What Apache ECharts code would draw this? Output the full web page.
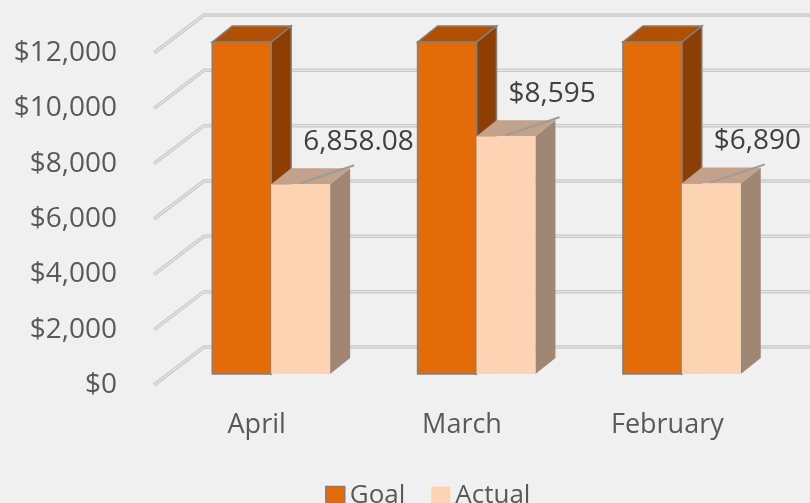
<!DOCTYPE html>
<html>
<head>
<meta charset="utf-8">
<style>
html,body{margin:0;padding:0;background:#f0f0f0}
#main{width:810px;height:503px}
</style>
<script src="https://cdn.jsdelivr.net/npm/echarts@6/dist/echarts.min.js"></script>
</head>
<body>
<div id="main"></div>
<script>
var months = ['April', 'March', 'February'];
var goal = [12000, 12000, 12000];
var actual = [6858.08, 8595, 6890];
var actualLabels = ['6,858.08', '$8,595', '$6,890'];
var yTicks = [0, 2000, 4000, 6000, 8000, 10000, 12000];

var chart = echarts.init(document.getElementById('main'));
var FONT = 'Open Sans';
// fake 3d: floor front -> bar front plane -> bar back -> back wall
var BAR_OFF = [14.5, -11];
var DEPTH = [20, -16];
var WALL = [50, -38];
var BAR_RATIO = 0.287;

var colors = {
  goal: {front: '#e36c09', top: '#b05004', side: '#8d3f03', stroke: '#808080'},
  actual: {front: '#fdd4b3', top: '#c2a28a', side: '#a08773', stroke: null}
};

function box(params, api, side, c, extra) {
  var idx = api.value(0), val = api.value(1);
  var b = api.coord([idx, 0]);
  var t = api.coord([idx, val]);
  var w = api.size([1, 0])[0] * BAR_RATIO;
  var x0 = b[0] + BAR_OFF[0] + (side === 0 ? -w : 0);
  var x1 = x0 + w;
  var yb = b[1] + BAR_OFF[1];
  var yt = t[1] + BAR_OFF[1];
  var st = c.stroke ? {stroke: c.stroke, lineWidth: 1.5} : {};
  var kids = [
    {type: 'polygon', shape: {points: [[x1, yt], [x1 + DEPTH[0], yt + DEPTH[1]], [x1 + DEPTH[0], yb + DEPTH[1]], [x1, yb]]},
      style: Object.assign({fill: c.side}, st)},
    {type: 'polygon', shape: {points: [[x0, yt], [x0 + DEPTH[0], yt + DEPTH[1]], [x1 + DEPTH[0], yt + DEPTH[1]], [x1, yt]]},
      style: Object.assign({fill: c.top}, st)},
    {type: 'rect', shape: {x: x0, y: yt, width: w, height: yb - yt},
      style: Object.assign({fill: c.front}, st)}
  ];
  if (extra) kids = kids.concat(extra(x0, yt, params.dataIndex));
  return {type: 'group', children: kids};
}

var option = {
  backgroundColor: '#f0f0f0',
  animation: false,
  grid: {left: 154, right: 40, top: 53, bottom: 118},
  legend: {
    left: 320, top: 477,
    itemWidth: 19, itemHeight: 19, itemGap: 26,
    icon: 'rect',
    textStyle: {fontFamily: FONT, fontSize: 26, lineHeight: 28, color: '#595959'},
    data: [
      {name: 'Goal', itemStyle: {borderColor: '#808080', borderWidth: 1.5}},
      {name: 'Actual'}
    ]
  },
  xAxis: {
    type: 'category',
    data: months,
    axisLine: {show: false},
    axisTick: {show: false},
    axisLabel: {fontFamily: FONT, fontSize: 27, lineHeight: 27, color: '#595959', margin: 27}
  },
  yAxis: {
    type: 'value',
    min: 0, max: 12000, interval: 2000,
    splitLine: {show: false},
    axisLine: {show: false},
    axisLabel: {
      fontFamily: FONT, fontSize: 28, color: '#595959', margin: 37,
      formatter: function (v) { return '$' + v.toLocaleString('en-US'); }
    }
  },
  series: [
    {
      name: 'grid',
      type: 'custom',
      silent: true,
      z: 1,
      data: yTicks.map(function (v) { return [0, v]; }),
      renderItem: function (params, api) {
        var cs = params.coordSys;
        var y = api.coord([0, api.value(1)])[1];
        var pts = [[cs.x, y], [cs.x + WALL[0], y + WALL[1]], [810, y + WALL[1]]];
        return {type: 'group', children: [
          {type: 'polyline', shape: {points: pts}, style: {stroke: '#c9c9c9', lineWidth: 3.5, fill: null}},
          {type: 'polyline', shape: {points: pts}, style: {stroke: '#e6e6e6', lineWidth: 1.2, fill: null}}
        ]};
      }
    },
    {
      name: 'Goal',
      type: 'custom',
      z: 2,
      itemStyle: {color: colors.goal.front},
      data: goal.map(function (v, i) { return [i, v]; }),
      renderItem: function (params, api) { return box(params, api, 0, colors.goal); }
    },
    {
      name: 'Actual',
      type: 'custom',
      z: 3,
      itemStyle: {color: colors.actual.front},
      data: actual.map(function (v, i) { return [i, v]; }),
      renderItem: function (params, api) {
        return box(params, api, 1, colors.actual, function (x0, yt, i) {
          return [
            {type: 'polyline', shape: {points: [[x0 + 29, yt - 1], [x0 + 83, yt - 19]]},
              style: {stroke: '#9c9c9c', lineWidth: 2, fill: null}},
            {type: 'text', style: {text: actualLabels[i], x: x0 + 32, y: yt - 42,
              fill: '#404040', fontFamily: FONT, fontSize: 28, align: 'left', verticalAlign: 'middle'}}
          ];
        });
      }
    }
  ]
};
chart.setOption(option);
</script>
</body>
</html>
